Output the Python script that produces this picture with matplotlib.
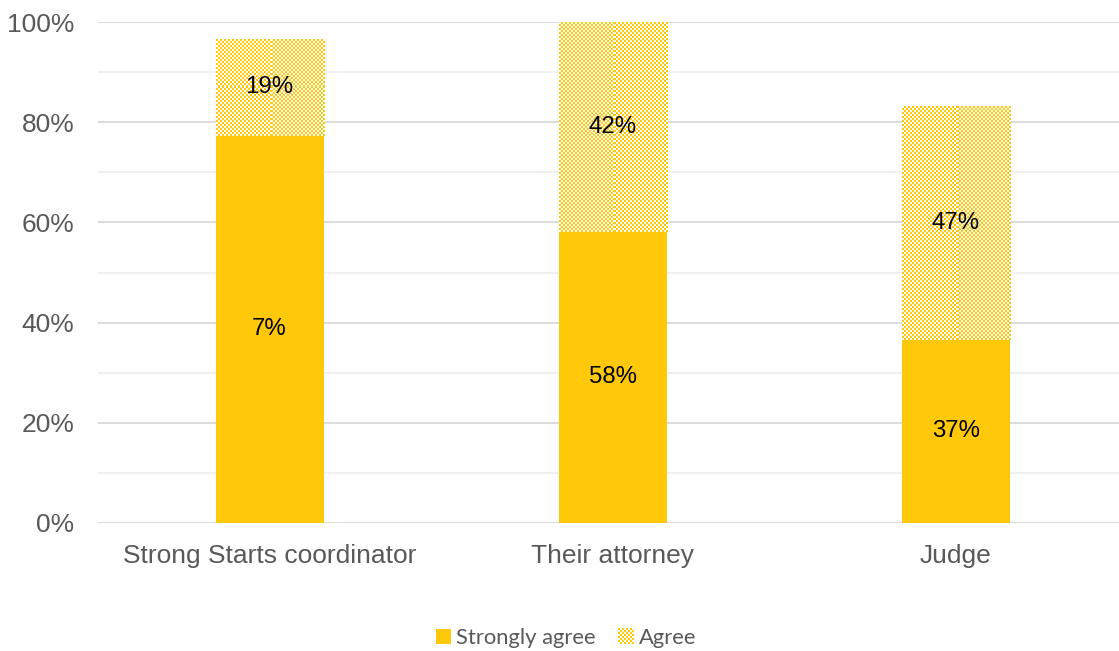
import numpy as np
import matplotlib
matplotlib.use("Agg")
import matplotlib.pyplot as plt
from matplotlib.patches import Rectangle, Patch
from matplotlib.legend_handler import HandlerBase

# Survey data (percent of respondents)
categories = ["Strong Starts coordinator", "Their attorney", "Judge"]
strongly_agree = [77.3, 58.1, 36.6]
agree = [19.3, 41.9, 46.7]
strongly_labels = ["7%", "58%", "37%"]
agree_labels = [f"{round(v)}%" for v in agree]
y_ticks = [0, 20, 40, 60, 80, 100]

YELLOW = "#FFC90A"
GRID_MAJOR = "#D9D9D9"
GRID_MINOR = "#EFEFEF"
TEXT_GRAY = "#595959"
DPI = 100
CELL_PX = 2  # size of one checker square in pixels

fig = plt.figure(figsize=(11.19, 6.51), dpi=DPI)
W, H = 1119, 651
ax = fig.add_axes([98 / W, (H - 523) / H, (1127.5 - 98) / W, (523 - 22) / H])

x = np.arange(len(categories))
bar_w = 0.315
ax.set_xlim(-0.5, len(categories) - 0.5)
ax.set_ylim(0, 100)

# gridlines
for v in range(0, 101, 10):
    ax.axhline(v, color=GRID_MAJOR if v % 20 == 0 else GRID_MINOR,
               lw=1.3, zorder=0)

# solid segments
ax.bar(x, strongly_agree, width=bar_w, color=YELLOW, zorder=2)

# checkered segments: draw a checkerboard image inside each bar rectangle
fig.canvas.draw()
cmap = matplotlib.colors.ListedColormap(["#FFFFFF", YELLOW])
for xi, base, h in zip(x, strongly_agree, agree):
    x0, x1 = xi - bar_w / 2, xi + bar_w / 2
    y0, y1 = base, base + h
    p0 = ax.transData.transform((x0, y0))
    p1 = ax.transData.transform((x1, y1))
    nx = max(1, int(round(abs(p1[0] - p0[0]) / CELL_PX)))
    ny = max(1, int(round(abs(p1[1] - p0[1]) / CELL_PX)))
    ii, jj = np.indices((ny, nx))
    board = ((ii + jj) % 2).astype(float)
    ax.imshow(board, cmap=cmap, vmin=0, vmax=1, extent=(x0, x1, y0, y1),
              origin="lower", interpolation="nearest", aspect="auto",
              zorder=2)

ax.set_xlim(-0.5, len(categories) - 0.5)
ax.set_ylim(0, 100)

# data labels
for xi, v, lab in zip(x, strongly_agree, strongly_labels):
    ax.text(xi, v / 2, lab, ha="center", va="center", fontsize=17.3,
            family="Liberation Sans", color="black", zorder=3)
for xi, base, v, lab in zip(x, strongly_agree, agree, agree_labels):
    ax.text(xi, base + v / 2, lab, ha="center", va="center", fontsize=17.3,
            family="Liberation Sans", color="black", zorder=3)

# axes styling
for s in ax.spines.values():
    s.set_visible(False)
ax.set_yticks(y_ticks)
ax.set_yticklabels([f"{t}%" for t in y_ticks])
ax.set_xticks(x)
ax.set_xticklabels(categories)
ax.tick_params(axis="both", length=0, labelsize=19, labelcolor=TEXT_GRAY)
ax.tick_params(axis="y", pad=17)
ax.tick_params(axis="x", pad=15)
for lab in ax.get_xticklabels() + ax.get_yticklabels():
    lab.set_family("Liberation Sans")


class CheckerHandler(HandlerBase):
    def create_artists(self, legend, orig_handle, xdescent, ydescent,
                       width, height, fontsize, trans):
        cell = CELL_PX * 72 / DPI
        side = height
        n = int(round(side / cell))
        arts = [Rectangle((xdescent, -ydescent), side, side,
                          facecolor="white", edgecolor="none",
                          transform=trans)]
        for i in range(n):
            for j in range(n):
                if (i + j) % 2:
                    arts.append(Rectangle((xdescent + j * cell,
                                           -ydescent + i * cell),
                                          cell, cell, facecolor=YELLOW,
                                          edgecolor="none", transform=trans))
        return arts


class SquareHandler(HandlerBase):
    def create_artists(self, legend, orig_handle, xdescent, ydescent,
                       width, height, fontsize, trans):
        return [Rectangle((xdescent, -ydescent), height, height,
                          facecolor=YELLOW, edgecolor="none",
                          transform=trans)]


h1 = Patch(facecolor=YELLOW, label="Strongly agree")
h2 = Patch(facecolor="white", label="Agree")
leg = fig.legend(handles=[h1, h2], loc="center",
                 bbox_to_anchor=(566 / W, (H - 638) / H), ncol=2,
                 frameon=False, prop={"family": "Lato", "size": 15.8},
                 handlelength=0.7, handleheight=0.7, handletextpad=0.25,
                 columnspacing=1.0,
                 handler_map={h1: SquareHandler(), h2: CheckerHandler()})
for t in leg.get_texts():
    t.set_color(TEXT_GRAY)

fig.savefig("out.png", dpi=DPI)
